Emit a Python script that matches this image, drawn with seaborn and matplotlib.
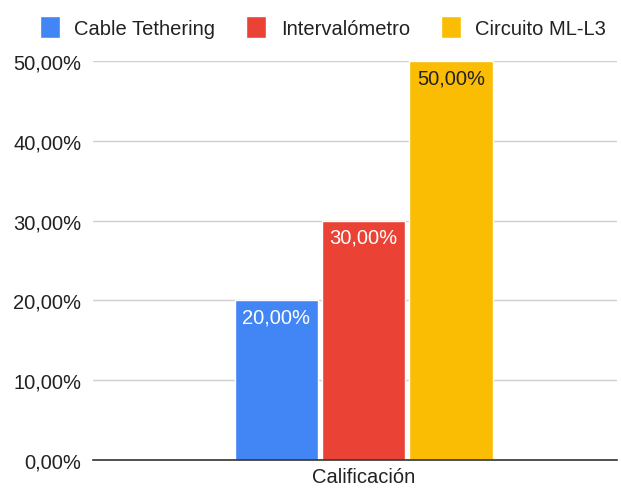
import matplotlib
matplotlib.use("Agg")
import matplotlib.pyplot as plt
import seaborn as sns
import pandas as pd
from matplotlib.ticker import FuncFormatter

categories = ["Calificación"]
series = ["Cable Tethering", "Intervalómetro", "Circuito ML-L3"]
values = [0.20, 0.30, 0.50]
colors = ["#4285F4", "#EA4335", "#FBBC04"]
label_colors = ["white", "white", "#222222"]
yticks = [0.0, 0.1, 0.2, 0.3, 0.4, 0.5]

df = pd.DataFrame({"cat": categories * len(series), "serie": series, "valor": values})

sns.set_theme(style="white")
plt.rcParams["font.family"] = ["Liberation Sans", "DejaVu Sans"]
FS = 14.5

fig = plt.figure(figsize=(6.21, 4.89), dpi=100)
ax = fig.add_axes([93 / 621, 1 - 461 / 489, (617 - 93) / 621, (461 - 62) / 489])

sns.barplot(data=df, x="cat", y="valor", hue="serie", palette=colors,
            width=0.8, gap=0.05, ax=ax, legend=True, saturation=1)

ax.set_ylim(0, 0.5)
ax.set_xlim(-0.825, 0.773)
ax.set_yticks(yticks)
ax.yaxis.set_major_formatter(FuncFormatter(lambda v, p: f"{v*100:.2f}%".replace(".", ",")))
ax.grid(axis="y", color="#cfcfcf", linewidth=1)
ax.set_axisbelow(True)
for s in ["top", "right", "left"]:
    ax.spines[s].set_visible(False)
ax.spines["bottom"].set_color("#333333")
ax.spines["bottom"].set_linewidth(1.2)
ax.spines["bottom"].set_zorder(5)
ax.tick_params(axis="y", length=0, labelsize=FS, colors="#222222", pad=8.5)
ax.tick_params(axis="x", length=0, labelsize=FS, colors="#222222", pad=5)
ax.set_xlabel("")
ax.set_ylabel("")

for cont, lc in zip(ax.containers, label_colors):
    for bar in cont:
        h = bar.get_height()
        ax.annotate(f"{h*100:.2f}%".replace(".", ","),
                    (bar.get_x() + bar.get_width() / 2, h),
                    xytext=(0, -11.9), textcoords="offset points",
                    ha="center", va="center", color=lc, fontsize=FS)

leg = ax.legend(loc="center left", bbox_to_anchor=(40 / 621, 1 - 28 / 489),
                bbox_transform=fig.transFigure, ncol=3,
                frameon=False, fontsize=FS, handlelength=1.0, handleheight=1.25,
                handletextpad=0.7, columnspacing=1.55, borderaxespad=0, borderpad=0)
for t in leg.get_texts():
    t.set_color("#222222")
for h in leg.legend_handles:
    h.set_width(20 / 100 * 72)

fig.savefig("out.png", dpi=100)
